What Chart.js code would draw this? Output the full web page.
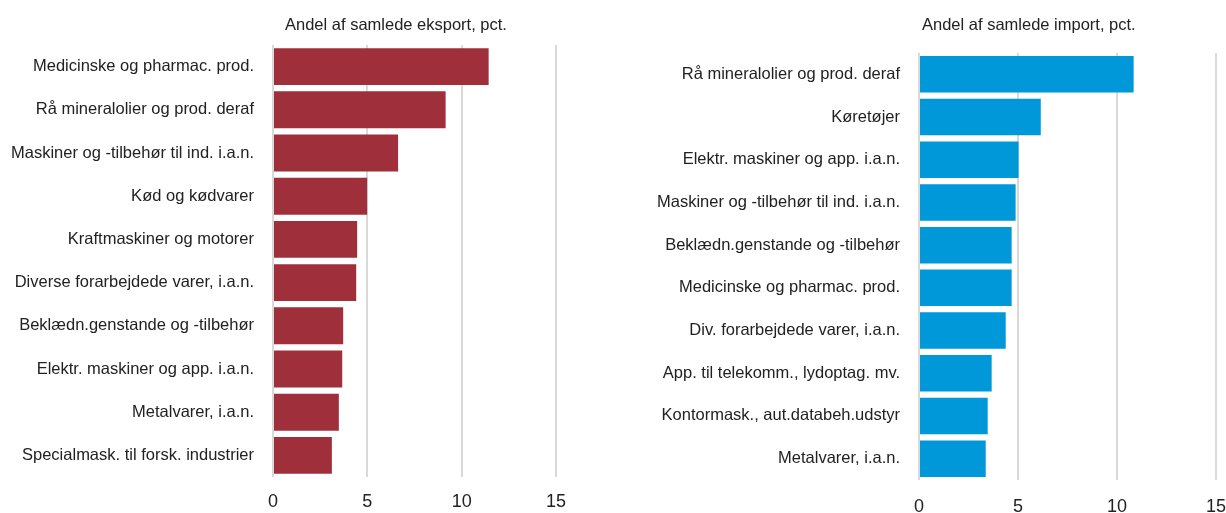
<!DOCTYPE html>
<html>
<head>
<meta charset="utf-8">
<script src="https://cdn.jsdelivr.net/npm/chart.js@4.4.1/dist/chart.umd.min.js"></script>
<style>
  html, body { margin: 0; padding: 0; background: #fff; }
  body { width: 1226px; height: 513px; position: relative; overflow: hidden; }
  .box { position: absolute; top: 0; height: 513px; }
  #leftBox { left: 0; width: 600px; }
  #rightBox { left: 600px; width: 626px; }
</style>
</head>
<body>
<div class="box" id="leftBox"><canvas id="exportChart" width="600" height="513"></canvas></div>
<div class="box" id="rightBox"><canvas id="importChart" width="626" height="513"></canvas></div>
<script>
// ---- Data ----
const exportCategories = [
  "Medicinske og pharmac. prod.",
  "Rå mineralolier og prod. deraf",
  "Maskiner og -tilbehør til ind. i.a.n.",
  "Kød og kødvarer",
  "Kraftmaskiner og motorer",
  "Diverse forarbejdede varer, i.a.n.",
  "Beklædn.genstande og -tilbehør",
  "Elektr. maskiner og app. i.a.n.",
  "Metalvarer, i.a.n.",
  "Specialmask. til forsk. industrier"
];
const exportValues = [11.43, 9.15, 6.63, 4.99, 4.46, 4.41, 3.72, 3.67, 3.49, 3.12];

const importCategories = [
  "Rå mineralolier og prod. deraf",
  "Køretøjer",
  "Elektr. maskiner og app. i.a.n.",
  "Maskiner og -tilbehør til ind. i.a.n.",
  "Beklædn.genstande og -tilbehør",
  "Medicinske og pharmac. prod.",
  "Div. forarbejdede varer, i.a.n.",
  "App. til telekomm., lydoptag. mv.",
  "Kontormask., aut.databeh.udstyr",
  "Metalvarer, i.a.n."
];
const importValues = [10.84, 6.15, 5.03, 4.88, 4.68, 4.68, 4.38, 3.67, 3.47, 3.37];

const xTicks = [0, 5, 10, 15];
const exportTitle = "Andel af samlede eksport, pct.";
const importTitle = "Andel af samlede import, pct.";

// ---- Styling ----
const FONT_FAMILY = "'Liberation Sans', Arial, sans-serif";
const TEXT_COLOR = "#222222";
const GRID_COLOR = "#d9d9d9";

const titlePlugin = {
  id: 'panelTitle',
  afterDraw(chart, args, opts) {
    const ctx = chart.ctx;
    ctx.save();
    ctx.font = opts.size + "px " + FONT_FAMILY;
    ctx.fillStyle = TEXT_COLOR;
    ctx.textAlign = 'left';
    ctx.textBaseline = 'middle';
    ctx.fillText(opts.text, chart.chartArea.left + opts.dx, opts.y);
    ctx.restore();
  }
};

function makeChart(canvasId, labels, values, color, cfg) {
  return new Chart(document.getElementById(canvasId), {
    type: 'bar',
    data: {
      labels: labels,
      datasets: [{
        data: values,
        backgroundColor: color,
        borderWidth: 0,
        barPercentage: 0.855,
        categoryPercentage: 1.0
      }]
    },
    plugins: [titlePlugin],
    options: {
      indexAxis: 'y',
      responsive: false,
      animation: false,
      events: [],
      layout: { padding: { top: cfg.top, right: cfg.right, left: 0, bottom: 0 } },
      plugins: {
        legend: { display: false },
        tooltip: { enabled: false },
        title: { display: false },
        panelTitle: { text: cfg.title, dx: cfg.titleDx, y: 25, size: 16.5 }
      },
      scales: {
        x: {
          min: 0, max: 15,
          afterBuildTicks(scale) { scale.ticks = xTicks.map(v => ({ value: v })); },
          afterFit(scale) {
            scale.height = cfg.xHeight;
            scale.paddingRight = 0;
            scale.paddingLeft = 0;
          },
          grid: { color: GRID_COLOR, lineWidth: 2, drawTicks: false },
          border: { display: false },
          ticks: {
            color: TEXT_COLOR,
            padding: cfg.xPad,
            font: { family: FONT_FAMILY, size: 18 }
          }
        },
        y: {
          afterFit(scale) { scale.width = cfg.yWidth; },
          grid: { display: false, drawTicks: false },
          border: { display: false },
          ticks: {
            color: TEXT_COLOR,
            padding: 19,
            font: { family: FONT_FAMILY, size: 16.5 }
          }
        }
      }
    }
  });
}

makeChart('exportChart', exportCategories, exportValues, '#9f2f3b', {
  top: 45, right: 44, xHeight: 36, xPad: 14, yWidth: 273, title: exportTitle, titleDx: 12
});
makeChart('importChart', importCategories, importValues, '#0098d8', {
  top: 53, right: 10, xHeight: 33, xPad: 16, yWidth: 319, title: importTitle, titleDx: 3
});
</script>
</body>
</html>
